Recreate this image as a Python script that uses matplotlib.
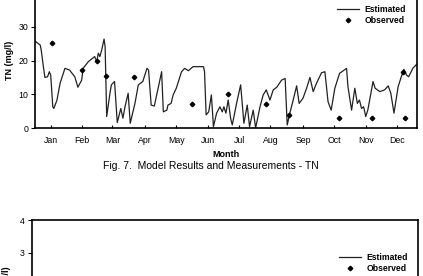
import matplotlib
matplotlib.use("Agg")
from matplotlib import pyplot as plt
from matplotlib.lines import Line2D

plt.rcParams['font.family'] = ['Liberation Sans', 'DejaVu Sans']

# TN, estimated (day of year, mg/l)
est_day = [0, 5, 6, 8, 9.5, 12, 13.7, 15, 17, 18, 21, 24, 28.6, 33, 38, 41, 44.6, 46,
           51, 57, 59, 60.5, 62, 63.7, 66, 67, 68.5, 71.6, 73, 76, 78.6, 82, 84, 86,
           89, 91, 95.5, 98.7, 103, 107, 108.5, 111, 114, 121, 122.6, 126, 127, 130,
           132, 135, 140, 143, 146.5, 151, 161, 162, 163.5, 166, 168.5, 169.5, 170.5,
           173.5, 176.7, 178.9, 180.5, 182.4, 184.6, 186.9, 188.5, 192.6, 196.5,
           199.6, 202.8, 205, 208.5, 210.8, 215, 218, 221, 224.5, 227.6, 231, 235.6,
           239, 241, 243.5, 246.7, 250, 252.4, 256, 259.5, 262.7, 265.8, 269, 273.8,
           277, 280, 283, 286.5, 291, 297.7, 299, 302.5, 305.6, 308, 310, 312, 314,
           316, 318, 323, 325, 329.5, 334, 337.5, 340, 343, 347, 350, 352.5, 355,
           357, 361, 365]
est_tn = [25.8, 24.6, 23, 18.2, 15, 15.2, 16.7, 15.7, 6.3, 5.8, 8.3, 13.3, 17.7, 17.2,
          15.2, 12.1, 14.2, 17.7, 19.7, 21.2, 19.7, 22.2, 21.2, 23.1, 26.4, 24.1, 3.4,
          10.3, 12.8, 13.8, 1.6, 5.8, 2.9, 6.3, 10.3, 1.4, 7.3, 12.8, 13.8, 17.7, 17.2,
          6.8, 6.5, 16.7, 4.8, 5.3, 6.8, 7.3, 9.8, 11.8, 16.7, 17.7, 17.0, 18.2, 18.2,
          16.7, 3.9, 4.8, 9.8, 5.3, 0.4, 4.4, 6.3, 4.8, 6.3, 4.4, 8.3, 2.9, 0.9, 7.3,
          12.8, 1.4, 6.8, 0.4, 5.3, 0, 6.3, 9.8, 11.3, 8.3, 11.3, 12.1, 14.2, 14.7,
          0.9, 4.4, 8.3, 12.5, 7.3, 8.8, 11.8, 15.0, 10.8, 13.3, 16.4, 16.7, 7.8, 5.3,
          11.8, 16.2, 17.7, 12.3, 5.3, 11.8, 7.3, 8.3, 5.8, 6.3, 3.4, 5.3, 13.8, 11.8,
          10.8, 11.3, 12.5, 10.3, 4.4, 12.3, 15.2, 17.4, 15.7, 15.2, 17.7, 19.0]

# TN, observed
obs_day = [16.5, 45, 59, 67.5, 94.6, 150, 184.6, 220.6, 242.6, 290, 322, 351.5, 353.5]
obs_tn = [25.3, 17.2, 20, 15.4, 15, 7.1, 10.1, 7.1, 3.9, 2.9, 2.9, 16.7, 2.9]

months = ['Jan', 'Feb', 'Mar', 'Apr', 'May', 'Jun', 'Jul', 'Aug', 'Sep', 'Oct', 'Nov', 'Dec']
month_pos = [15, 45, 74, 105, 135, 165, 195, 225, 256, 286, 316, 346]

fig = plt.figure(figsize=(4.23, 2.76), dpi=100)
fig.patch.set_facecolor('white')

TICK_FS = 6.3


def style_axes(ax):
    for s in ax.spines.values():
        s.set_linewidth(1.2)
    ax.tick_params(axis='y', direction='out', length=3, width=0.8, labelsize=TICK_FS, pad=2)
    ax.tick_params(axis='x', direction='in', length=2, width=0.8, labelsize=TICK_FS, pad=6)


# top chart: TN (top of the frame is cut off by the page)
ax1 = fig.add_axes([35 / 423, 148 / 276, 382 / 423, 134.8 / 276])
ax1.plot(est_day, est_tn, color='#222222', lw=0.9, label='Estimated')
ax1.plot(obs_day, obs_tn, ls='none', marker='D', ms=2.3, color='black', label='Observed')
ax1.set_xlim(0, 365)
ax1.set_ylim(0, 40)
ax1.set_yticks([0, 10, 20, 30])
ax1.set_xticks(month_pos)
ax1.set_xticklabels(months)
style_axes(ax1)
ax1.set_ylabel('TN (mg/l)', fontsize=6.5, fontweight='bold', labelpad=3)
ax1.set_xlabel('Month', fontsize=6.5, fontweight='bold', labelpad=3.5)
ax1.legend(loc='upper right', bbox_to_anchor=(412 / 423, 1.005), bbox_transform=fig.transFigure,
           frameon=False, prop={'size': 6.2, 'weight': 'bold'}, handlelength=2.6,
           handletextpad=0.6, labelspacing=0.25, borderpad=0.2)

fig.text(211 / 423, 1 - 166 / 276, 'Fig. 7.  Model Results and Measurements - TN',
         fontsize=7.5, ha='center', va='center')

# bottom chart: only the top part is visible
ax2 = fig.add_axes([31.5 / 423, -76 / 276, 386.5 / 423, 132 / 276])
ax2.set_xlim(0, 365)
ax2.set_ylim(0, 4)
ax2.set_yticks([3, 4])
ax2.set_xticks(month_pos)
ax2.set_xticklabels([])
style_axes(ax2)
ax2.set_ylabel('TP (mg/l)', fontsize=6.5, fontweight='bold', labelpad=6)
handles = [Line2D([], [], color='#222222', lw=0.9),
           Line2D([], [], ls='none', marker='D', ms=2.3, color='black')]
ax2.legend(handles, ['Estimated', 'Observed'], loc='upper right',
           bbox_to_anchor=(414 / 423, 1 - 247 / 276), bbox_transform=fig.transFigure,
           frameon=False, prop={'size': 6.2, 'weight': 'bold'}, handlelength=2.6,
           handletextpad=0.6, labelspacing=0.25, borderpad=0.2)

fig.savefig('out.png', dpi=100)
